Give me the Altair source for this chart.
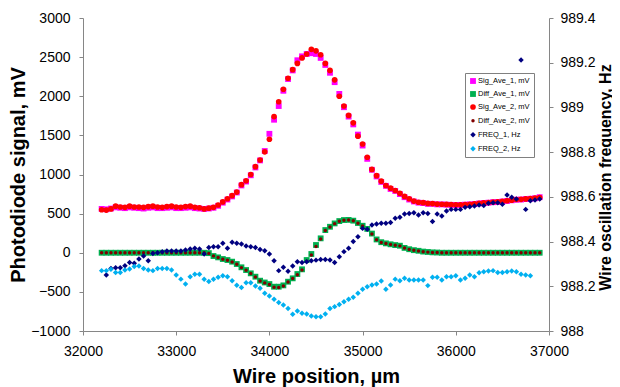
import altair as alt
import pandas as pd

POSITION_UM = [
    32200, 32250, 32300, 32350, 32400, 32450, 32500, 32550, 32600, 32650,
    32700, 32750, 32800, 32850, 32900, 32950, 33000, 33050, 33100, 33150,
    33200, 33250, 33300, 33350, 33400, 33450, 33500, 33550, 33600, 33650,
    33700, 33750, 33800, 33850, 33900, 33950, 34000, 34050, 34100, 34150,
    34200, 34250, 34300, 34350, 34400, 34450, 34500, 34550, 34600, 34650,
    34700, 34750, 34800, 34850, 34900, 34950, 35000, 35050, 35100, 35150,
    35200, 35250, 35300, 35350, 35400, 35450, 35500, 35550, 35600, 35650,
    35700, 35750, 35800, 35850, 35900, 35950, 36000, 36050, 36100, 36150,
    36200, 36250, 36300, 36350, 36400, 36450, 36500, 36550, 36600, 36650,
    36700, 36750, 36800, 36850, 36900,
]

SIG_AVE_1 = [
    560, 555, 565, 580, 575, 570, 580, 575, 570, 565,
    575, 580, 570, 570, 575, 580, 570, 570, 575, 580,
    570, 565, 560, 565, 575, 600, 640, 680, 720, 770,
    860, 910, 990, 1090, 1180, 1300, 1520, 1700, 1875, 2070,
    2220, 2330, 2460, 2510, 2540, 2550, 2540, 2490, 2400, 2300,
    2180, 2030, 1860, 1740, 1640, 1510, 1370, 1200, 1060, 975,
    905, 855, 815, 790, 750, 710, 680, 655, 640, 635,
    625, 625, 618, 618, 615, 612, 610, 612, 615, 618,
    622, 630, 636, 640, 646, 650, 655, 662, 670, 678,
    680, 686, 690, 696, 710,
]

SIG_AVE_2 = [
    550, 545, 560, 595, 585, 580, 595, 585, 585, 580,
    590, 595, 585, 580, 590, 595, 585, 580, 590, 595,
    580, 575, 560, 570, 580, 610, 650, 690, 730, 775,
    870, 920, 1000, 1100, 1185, 1290, 1450, 1740, 1930, 2090,
    2230, 2340, 2420, 2490, 2540, 2600, 2580, 2530, 2420, 2330,
    2210, 2000, 1875, 1755, 1660, 1490, 1390, 1220, 1065, 985,
    915, 860, 825, 795, 760, 720, 690, 660, 645, 640,
    630, 628, 622, 620, 618, 615, 612, 612, 615, 620,
    625, 632, 638, 642, 648, 652, 658, 665, 672, 680,
    683, 688, 692, 698, 705,
]

DIFF_AVE_1 = [
    0, 0, 0, 0, 0, 0, 0, 0, 0, 0,
    0, 0, 0, 0, 0, 0, 0, 0, 0, 0,
    0, 0, 0, -5, -42, -59, -80, -93, -114, -144,
    -186, -221, -263, -306, -357, -380, -400, -434, -434, -417,
    -370, -327, -272, -212, -93, -16, 99, 184, 290, 332,
    375, 405, 418, 420, 410, 380, 345, 305, 245, 170,
    135, 120, 108, 98, 90, 62, 45, 33, 25, 15,
    10, 5, 3, 0, 0, 0, 0, 0, 0, 0,
    0, 0, 0, 0, 0, 0, 0, 0, 0, 0,
    0, 0, 0, 0, 0,
]

DIFF_AVE_2 = [
    0, 0, 0, 0, 0, 0, 0, 0, 0, 0,
    0, 0, 0, 0, 0, 0, 0, 0, 0, 0,
    0, 0, 0, -8, -40, -62, -82, -95, -118, -148,
    -190, -225, -265, -310, -360, -385, -405, -440, -445, -425,
    -375, -330, -280, -220, -110, -30, 80, 175, 285, 330,
    372, 402, 416, 418, 408, 378, 342, 300, 240, 165,
    132, 118, 106, 96, 88, 60, 43, 31, 23, 13,
    8, 4, 2, 0, 0, 0, 0, 0, 0, 0,
    0, 0, 0, 0, 0, 0, 0, 0, 0, 0,
    0, 0, 0, 0, 0,
]

FREQ_1 = [
    None, 988.250, 988.280, 988.283, 988.283, 988.292, 988.306, 988.303, 988.322, 988.335,
    988.314, 988.347, 988.350, 988.354, 988.358, 988.358, 988.358, 988.358, 988.362, 988.367,
    988.370, 988.367, 988.344, 988.373, 988.377, 988.377, 988.392, 988.370, 988.397, 988.392,
    988.389, 988.380, 988.377, 988.373, 988.365, 988.359, 988.344, 988.314, 988.270, 988.285,
    988.267, 988.291, 988.310, 988.306, 988.310, 988.314, 988.317, 988.320, 988.320, 988.318,
    988.306, 988.332, 988.355, 988.370, 988.400, 988.422, 988.459, 988.455, 988.474, 988.479,
    988.482, 988.482, 988.485, 988.504, 988.509, 988.523, 988.526, 988.529, 988.519, 988.529,
    988.526, 988.490, 988.523, 988.514, 988.537, 988.544, 988.544, 988.544, 988.553, 988.556,
    988.559, 988.564, 988.561, 988.571, 988.574, 988.574, 988.567, 988.608, 988.598, 988.590,
    989.212, 988.544, 988.583, 988.586, 988.590,
]

FREQ_2 = [
    988.270, 988.270, 988.276, 988.262, 988.262, 988.273, 988.277, 988.288, 988.291, 988.280,
    988.273, 988.270, 988.280, 988.280, 988.280, 988.273, 988.250, 988.232, 988.210, 988.243,
    988.254, 988.254, 988.231, 988.221, 988.231, 988.240, 988.247, 988.243, 988.225, 988.205,
    988.195, 988.216, 988.216, 988.201, 988.191, 988.169, 988.157, 988.142, 988.127, 988.116,
    988.101, 988.075, 988.089, 988.079, 988.076, 988.067, 988.064, 988.064, 988.076, 988.101,
    988.109, 988.119, 988.131, 988.142, 988.151, 988.169, 988.187, 988.198, 988.206, 988.210,
    988.224, 988.187, 988.206, 988.232, 988.225, 988.236, 988.228, 988.228, 988.228, 988.228,
    988.203, 988.240, 988.240, 988.228, 988.243, 988.243, 988.247, 988.228, 988.236, 988.250,
    988.243, 988.261, 988.265, 988.268, 988.270, 988.262, 988.262, 988.265, 988.268, 988.265,
    988.254, 988.250, 988.247, None, None,
]

SERIES = ["Sig_Ave_1, mV", "Diff_Ave_1, mV", "Sig_Ave_2, mV", "Diff_Ave_2, mV",
          "FREQ_1, Hz", "FREQ_2, Hz"]
COLORS = ["#FF00FF", "#00B050", "#FF0000", "#800000", "#000080", "#00B0F0"]
SHAPES = ["square", "square", "circle", "circle", "diamond", "diamond"]
SIZES = [34, 34, 32, 12, 30, 30]

LEFT_TICKS = [-1000, -500, 0, 500, 1000, 1500, 2000, 2500, 3000]
RIGHT_TICKS = [988, 988.2, 988.4, 988.6, 988.8, 989, 989.2, 989.4]
X_TICKS = [32000, 33000, 34000, 35000, 36000, 37000]


def build(pairs):
    rows = []
    for name, vals in pairs:
        for x, v in zip(POSITION_UM, vals):
            if v is not None:
                rows.append({"pos": x, "val": v, "series": name})
    return pd.DataFrame(rows)


df_mv = build([(SERIES[0], SIG_AVE_1), (SERIES[1], DIFF_AVE_1),
               (SERIES[2], SIG_AVE_2), (SERIES[3], DIFF_AVE_2)])
df_hz = build([(SERIES[4], FREQ_1), (SERIES[5], FREQ_2)])

FONT = "Liberation Sans"

legend = alt.Legend(
    title=None, orient="none", legendX=382, legendY=55,
    strokeColor="#808080", padding=4, labelFont=FONT, labelFontSize=7.5,
    labelColor="black", rowPadding=5, labelOffset=1, fillColor="white",
)

color = alt.Color("series:N", scale=alt.Scale(domain=SERIES, range=COLORS), legend=legend)
shape = alt.Shape("series:N", scale=alt.Scale(domain=SERIES, range=SHAPES), legend=legend)
size = alt.Size("series:N", scale=alt.Scale(type="ordinal", domain=SERIES, range=SIZES), legend=legend)

x_enc = alt.X(
    "pos:Q",
    scale=alt.Scale(domain=[32000, 37000], nice=False),
    axis=alt.Axis(title="Wire position, µm", values=X_TICKS, format="d",
                  labelFlush=False, labelPadding=9, titlePadding=8),
)

left = alt.Chart(df_mv).mark_point(filled=True, opacity=1).encode(
    x=x_enc,
    y=alt.Y("val:Q", scale=alt.Scale(domain=[-1000, 3000], nice=False),
            axis=alt.Axis(title="Photodiode signal, mV", values=LEFT_TICKS, format="d",
                          labelFlush=False, labelPadding=9, titlePadding=2)),
    color=color, shape=shape, size=size,
)

right = alt.Chart(df_hz).mark_point(filled=True, opacity=1).encode(
    x=x_enc,
    y=alt.Y("val:Q", scale=alt.Scale(domain=[988, 989.4], nice=False, zero=False),
            axis=alt.Axis(title="Wire oscillation frequency, Hz", orient="right",
                          values=RIGHT_TICKS, format="~g", titleAngle=270,
                          titleBaseline="top", titleFontSize=16, labelFlush=False,
                          labelPadding=7, titleX=48, titleY=159, titleAlign="center")),
    color=color, shape=shape, size=size,
)

chart = alt.layer(left, right).resolve_scale(y="independent").properties(
    width=466, height=313,
    autosize=alt.AutoSizeParams(type="none"),
    padding={"left": 75, "top": 10, "right": 63, "bottom": 58},
).configure_view(stroke=None).configure_axis(
    grid=False, domainColor="#868686", tickColor="#868686", tickSize=4,
    labelFont=FONT, labelFontSize=14, labelColor="black",
    titleFont=FONT, titleFontSize=20, titleFontWeight="bold", titleColor="black",
)

chart.save("out.html", embed_options={"renderer": "svg", "actions": False})
